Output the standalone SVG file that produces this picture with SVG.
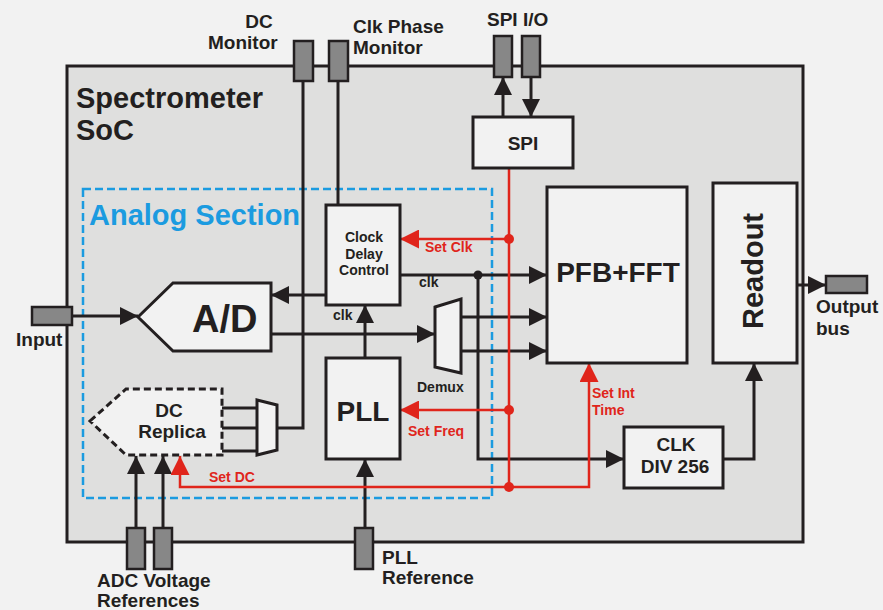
<svg xmlns="http://www.w3.org/2000/svg" width="883" height="610" viewBox="0 0 883 610">
<defs>
<style>
text{font-family:"Liberation Sans",Arial,sans-serif;font-weight:bold;fill:#231f20}
.s14{font-size:14px}.s19{font-size:19px}.s29{font-size:29px}
.red{fill:#e0251b}
.box{fill:#f2f2f2;stroke:#231f20;stroke-width:3}
.pin{fill:#878787;stroke:#231f20;stroke-width:2.5}
.ln{fill:none;stroke:#231f20;stroke-width:3}
.rl{fill:none;stroke:#e0251b;stroke-width:2.5}
.ab{marker-end:url(#ab)}
.ar{marker-end:url(#ar)}
</style>
<marker id="ab" viewBox="0 0 18 18" refX="18" refY="9" markerWidth="18" markerHeight="18" markerUnits="userSpaceOnUse" orient="auto"><path d="M0,0 L18,9 L0,18 z" fill="#231f20"/></marker>
<marker id="ar" viewBox="0 0 18 18" refX="18" refY="9" markerWidth="19" markerHeight="19" markerUnits="userSpaceOnUse" orient="auto"><path d="M0,0 L18,9 L0,18 z" fill="#e0251b"/></marker>
</defs>
<rect width="883" height="610" fill="#f2f2f2"/>
<g id="soc">
<rect x="67" y="66" width="736" height="476" fill="#dfdfde" stroke="#231f20" stroke-width="3"/>
<text class="s29" x="76" y="108">Spectrometer</text>
<text class="s29" x="76" y="140">SoC</text>
</g>
<g id="analog-section">
<rect x="83" y="189" width="409" height="309" fill="none" stroke="#1b9be0" stroke-width="2.5" stroke-dasharray="8,4"/>
<text class="s29" x="89" y="225" style="fill:#1b9be0">Analog Section</text>
</g>
<g id="connectors">
<path class="ln ab" d="M72,316 H138"/>
<path class="ln" d="M303,81 V428 H277"/>
<path class="ln" d="M338,81 V205"/>
<path class="ln ab" d="M503,117 V77"/>
<path class="ln ab" d="M531,77 V117"/>
<path class="ln ab" d="M326,295 H271"/>
<path class="ln ab" d="M400,275 H547"/>
<path class="ln ab" d="M478,275 V459 H624"/>
<circle cx="478" cy="275" r="4.5" fill="#231f20"/>
<path class="ln ab" d="M271,334 H435"/>
<path class="ln ab" d="M461,317 H547"/>
<path class="ln ab" d="M461,351 H547"/>
<path class="ln ab" d="M365,358 V305"/>
<path class="ln" d="M222,408 H257 M222,428 H257 M222,451 H257"/>
<path class="ln ab" d="M136,528 V456"/>
<path class="ln ab" d="M163,528 V456"/>
<path class="ln ab" d="M365,528 V459"/>
<path class="ln ab" d="M723,459 H754 V363"/>
<path class="ln ab" d="M797,285 H826"/>
<path class="rl" d="M509,168 V487"/>
<path class="rl ar" d="M509,239 H400"/>
<path class="rl ar" d="M509,410 H400"/>
<path class="rl ar" d="M509,487 H589 V363"/>
<path class="rl ar" d="M509,487 H180 V456"/>
<circle cx="509" cy="239" r="5" fill="#e0251b"/>
<circle cx="509" cy="410" r="5" fill="#e0251b"/>
<circle cx="509" cy="487" r="5" fill="#e0251b"/>
<text class="s14" x="419" y="287">clk</text>
<text class="s14" x="333" y="320">clk</text>
<text class="s14 red" x="425" y="252">Set Clk</text>
<text class="s14 red" x="408" y="436">Set Freq</text>
<text class="s14 red" x="209" y="482">Set DC</text>
<text class="s14 red" x="592" y="398">Set Int</text>
<text class="s14 red" x="592" y="415">Time</text>
</g>
<g id="dc-monitor">
<rect class="pin" x="294" y="41" width="19" height="40"/>
<text class="s19" x="259" y="28" text-anchor="middle">DC</text>
<text class="s19" x="208" y="49">Monitor</text>
</g>
<g id="clk-phase-monitor">
<rect class="pin" x="329" y="41" width="19" height="40"/>
<text class="s19" x="353" y="33">Clk Phase</text>
<text class="s19" x="353" y="54">Monitor</text>
</g>
<g id="spi-io">
<rect class="pin" x="494" y="36" width="18" height="41"/>
<rect class="pin" x="522" y="36" width="18" height="41"/>
<text class="s19" x="487" y="26">SPI I/O</text>
</g>
<g id="spi">
<rect class="box" x="473" y="117" width="100" height="51"/>
<text class="s19" x="523" y="150" text-anchor="middle">SPI</text>
</g>
<g id="clock-delay-control">
<rect class="box" x="326" y="205" width="74" height="100"/>
<text class="s14" x="364" y="242" text-anchor="middle">Clock</text>
<text class="s14" x="364" y="259" text-anchor="middle">Delay</text>
<text class="s14" x="364" y="275" text-anchor="middle">Control</text>
</g>
<g id="input">
<rect class="pin" x="32" y="307" width="40" height="18"/>
<text class="s19" x="16" y="346">Input</text>
</g>
<g id="ad">
<polygon class="box" points="138,317 173,283 271,283 271,351 173,351"/>
<text x="192" y="332" style="font-size:38px">A/D</text>
</g>
<g id="demux">
<polygon class="box" points="435,307 461,299 461,373 435,367"/>
<text class="s14" x="417" y="392">Demux</text>
</g>
<g id="pfb-fft">
<rect class="box" x="547" y="187" width="140" height="176"/>
<text x="618" y="282" text-anchor="middle" style="font-size:28px">PFB+FFT</text>
</g>
<g id="readout">
<rect class="box" x="713" y="183" width="84" height="180"/>
<text transform="translate(763,271) rotate(-90)" text-anchor="middle" style="font-size:29px">Readout</text>
</g>
<g id="output-bus">
<rect class="pin" x="826" y="276" width="41" height="17"/>
<text class="s19" x="816" y="313">Output</text>
<text class="s19" x="816" y="335">bus</text>
</g>
<g id="pll">
<rect class="box" x="326" y="358" width="74" height="101"/>
<text x="363" y="421" text-anchor="middle" style="font-size:28px">PLL</text>
</g>
<g id="dc-replica">
<polygon points="90,421 126,389 222,389 222,455 126,455" fill="#f2f2f2" stroke="#231f20" stroke-width="3" stroke-dasharray="7,4"/>
<text class="s19" x="169" y="417" text-anchor="middle">DC</text>
<text class="s19" x="172" y="438" text-anchor="middle">Replica</text>
</g>
<g id="dc-mux">
<polygon class="box" points="257,400 277,405 277,450 257,455"/>
</g>
<g id="clk-div">
<rect class="box" x="624" y="427" width="99" height="61"/>
<text class="s19" x="676" y="451" text-anchor="middle">CLK</text>
<text class="s19" x="675" y="473" text-anchor="middle">DIV 256</text>
</g>
<g id="adc-refs">
<rect class="pin" x="127" y="528" width="18" height="41"/>
<rect class="pin" x="154" y="528" width="18" height="41"/>
<text class="s19" x="97" y="587">ADC Voltage</text>
<text class="s19" x="97" y="607">References</text>
</g>
<g id="pll-reference">
<rect class="pin" x="355" y="528" width="18" height="41"/>
<text class="s19" x="382" y="564">PLL</text>
<text class="s19" x="382" y="584">Reference</text>
</g>
</svg>
